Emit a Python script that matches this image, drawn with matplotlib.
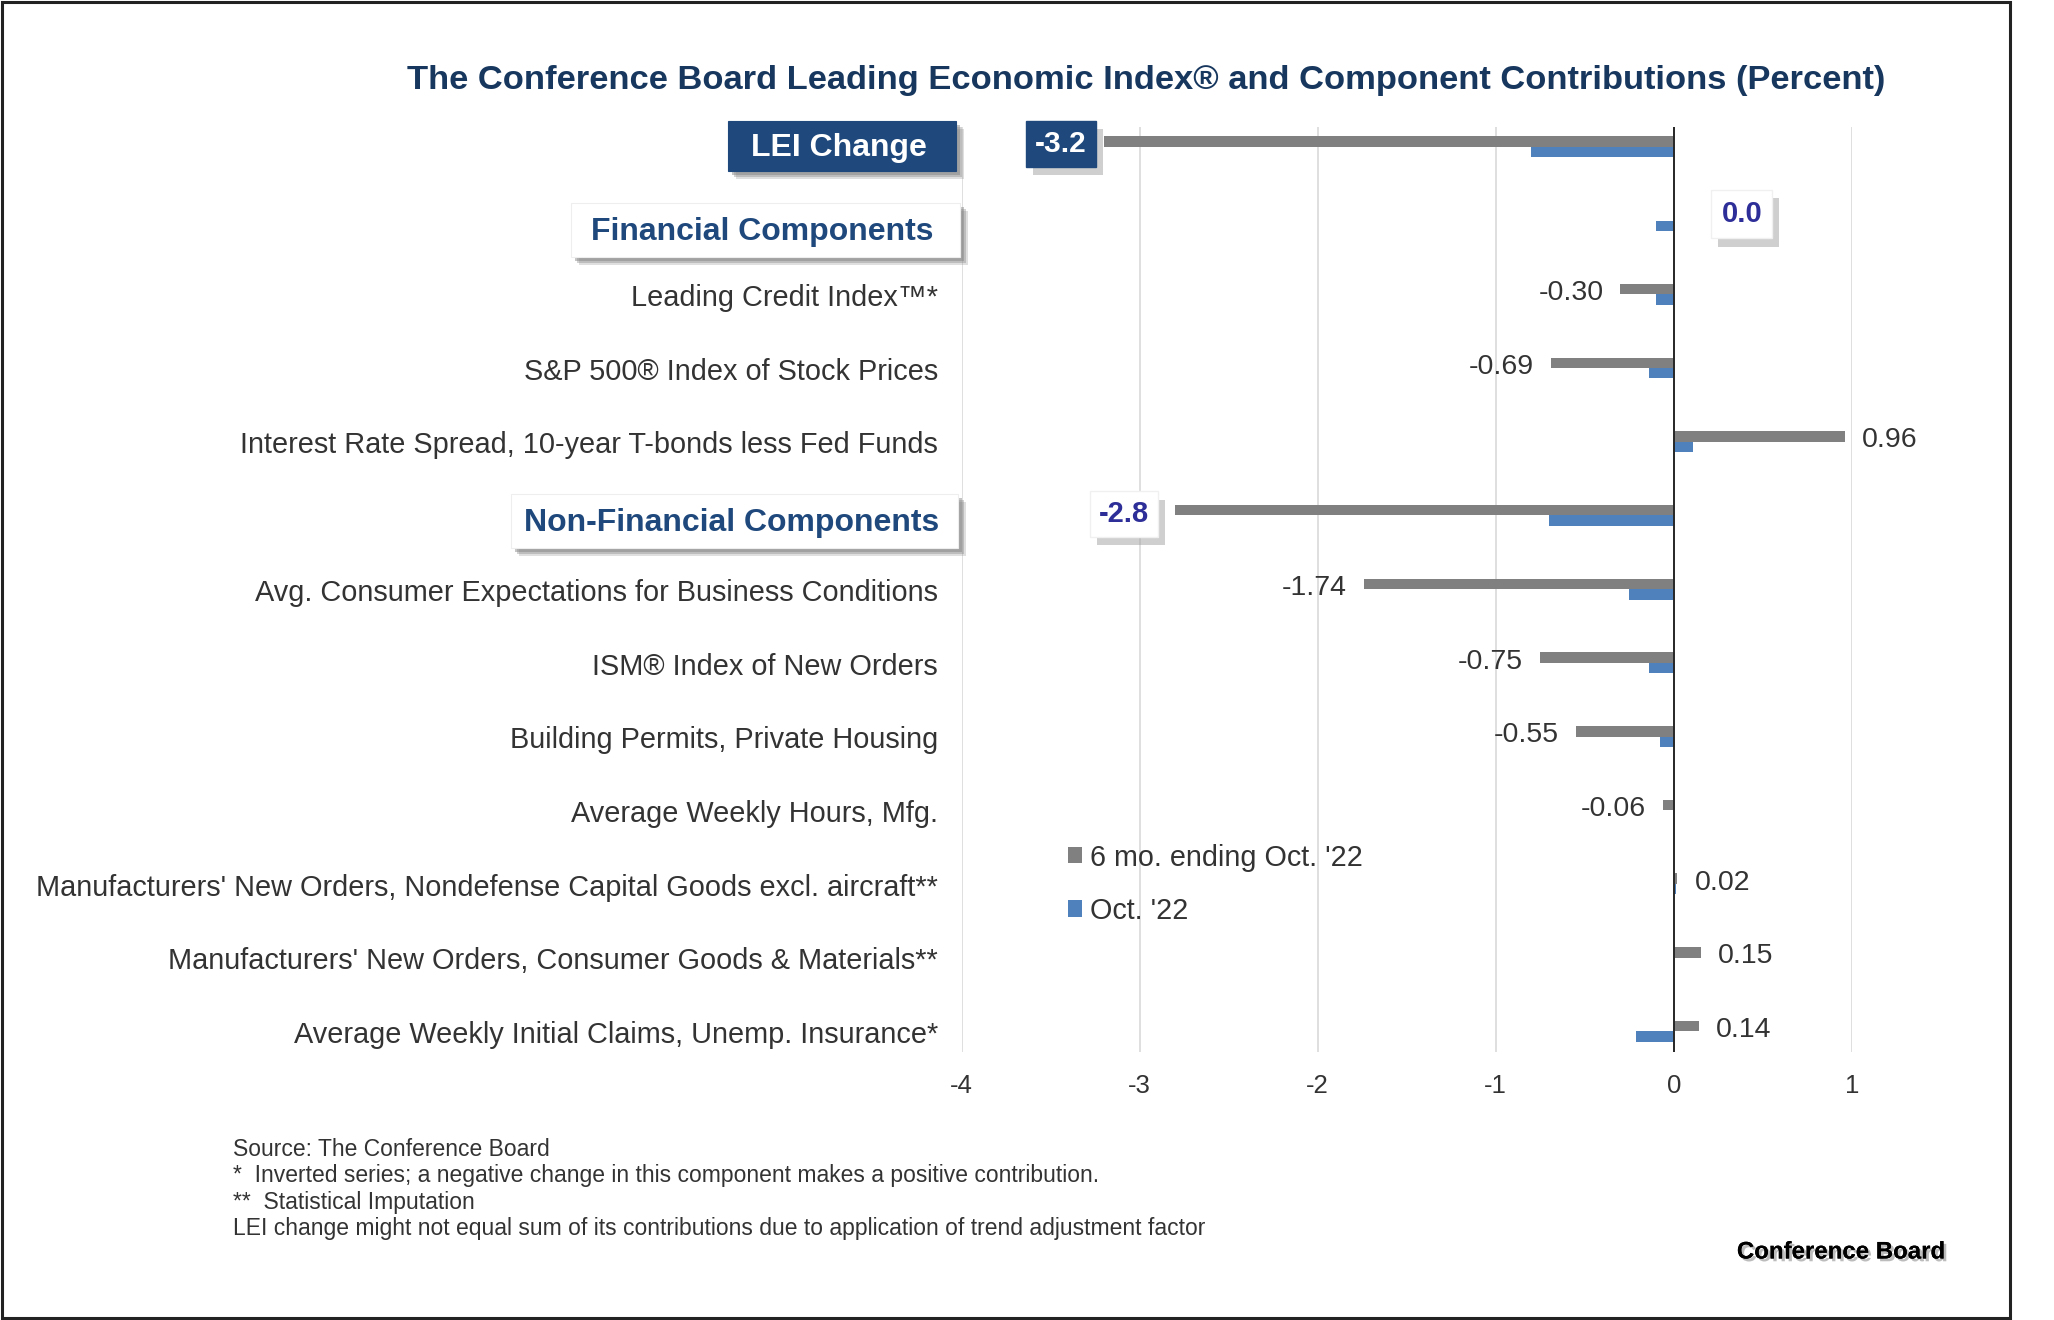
import matplotlib
matplotlib.use("Agg")
import matplotlib.pyplot as plt
import matplotlib.patches as mpatches
import matplotlib.patheffects as pe
import numpy as np

categories = [
    "LEI Change",
    "Financial Components",
    "Leading Credit Index\u2122*",
    "S&P 500\u00ae Index of Stock Prices",
    "Interest Rate Spread, 10-year T-bonds less Fed Funds",
    "Non-Financial Components",
    "Avg. Consumer Expectations for Business Conditions",
    "ISM\u00ae Index of New Orders",
    "Building Permits, Private Housing",
    "Average Weekly Hours, Mfg.",
    "Manufacturers' New Orders, Nondefense Capital Goods excl. aircraft**",
    "Manufacturers' New Orders, Consumer Goods & Materials**",
    "Average Weekly Initial Claims, Unemp. Insurance*",
]
six_month = [-3.2, 0.0, -0.30, -0.69, 0.96, -2.8, -1.74, -0.75, -0.55, -0.06, 0.02, 0.15, 0.14]
october = [-0.80, -0.10, -0.10, -0.14, 0.11, -0.70, -0.25, -0.14, -0.08, 0.0, 0.01, 0.0, -0.21]
series_names = ["6 mo. ending Oct. '22", "Oct. '22"]
x_ticks = [-4, -3, -2, -1, 0, 1]
section_rows = [0, 1, 5]
footnotes = [
    "Source: The Conference Board",
    "*  Inverted series; a negative change in this component makes a positive contribution.",
    "**  Statistical Imputation",
    "LEI change might not equal sum of its contributions due to application of trend adjustment factor",
]

NARROW = ["Liberation Sans Narrow", "Liberation Sans", "DejaVu Sans"]
SANS = ["Liberation Sans", "DejaVu Sans"]
GRAY = "#808080"
BLUE = "#4F81BD"
NAVY = "#1F497D"
TITLE_NAVY = "#17375E"
LABEL_BLUE = "#2E2E99"
TXT = "#333333"

W, H = 2054, 1320
fig = plt.figure(figsize=(W / 100, H / 100), dpi=100)
fig.patch.set_facecolor("white")

def fx(px):
    return px / W

def fy(py):
    return 1 - py / H

ax = fig.add_axes([fx(961.5), fy(1052), fx(1852) - fx(961.5), fy(127) - fy(1052)])
ax.set_xlim(-4, 1)
ax.set_ylim(12.28, -0.27)

y = np.arange(len(categories))
off = 0.071
bh = 0.142
ax.barh(y - off, six_month, height=bh, color=GRAY, label=series_names[0], zorder=3)
ax.barh(y + off, october, height=bh, color=BLUE, label=series_names[1], zorder=3)

for xt in x_ticks:
    ax.axvline(xt, color="#D9D9D9", lw=1.2, zorder=1)
ax.axvline(0, color="#262626", lw=1.4, zorder=4)

for s in ax.spines.values():
    s.set_visible(False)
ax.set_xticks(x_ticks)
ax.set_xticklabels([str(t) for t in x_ticks], fontfamily=NARROW, fontsize=18.5, color=TXT)
ax.tick_params(axis="x", length=0, pad=16)
ax.set_yticks([])

# category labels
for i, c in enumerate(categories):
    if i in section_rows:
        continue
    ax.text(-0.0264, i + 0.05, c, transform=ax.get_yaxis_transform(), ha="right", va="center",
            fontfamily=NARROW, fontsize=20.8, color=TXT)

# section header boxes (pixel boxes: x0, x1, y0, y1)
def header(box, text, fill, tcolor):
    x0, x1, y0, y1 = box
    for d, a in [(8, 0.25), (6, 0.35), (4, 0.45)]:
        sh = mpatches.Rectangle((fx(x0 + d), fy(y1 + d)), fx(x1) - fx(x0), fy(y0) - fy(y1),
                                transform=fig.transFigure, facecolor="#808080", alpha=a,
                                edgecolor="none", zorder=1)
        fig.patches.append(sh)
    r = mpatches.Rectangle((fx(x0), fy(y1)), fx(x1) - fx(x0), fy(y0) - fy(y1),
                           transform=fig.transFigure, facecolor=fill,
                           edgecolor="#EEEEEE" if fill == "white" else fill, lw=0.8, zorder=2)
    fig.patches.append(r)
    fig.text(fx((x0 + x1) / 2 - 3), fy((y0 + y1) / 2 + 2), text, ha="center", va="center",
             fontfamily=NARROW, fontweight="bold", fontsize=23, color=tcolor, zorder=3)

header((728, 956, 121, 171), categories[0], NAVY, "white")
header((571, 960, 203, 257), categories[1], "white", NAVY)
header((511, 958, 494, 548), categories[5], "white", NAVY)

# value labels
shadow = [pe.withSimplePatchShadow(offset=(5, -6), shadow_rgbFace="#A0A0A0", alpha=0.5)]
for i, v in enumerate(six_month):
    yy = i - off
    if i == 0:
        t = ax.annotate(f"{v:.1f}", (v, yy), xytext=(-17, -2), textcoords="offset pixels",
                        ha="right", va="center", fontfamily=NARROW, fontweight="bold",
                        fontsize=21.5, color="white",
                        bbox=dict(boxstyle="square,pad=0.3", fc=NAVY, ec=NAVY), zorder=6)
        t.get_bbox_patch().set_path_effects(shadow)
    elif i == 1:
        t = ax.annotate(f"{v:.1f}", (0, i - 0.09), xytext=(68, 0), textcoords="offset pixels",
                        ha="center", va="center", fontfamily=NARROW, fontweight="bold",
                        fontsize=21, color=LABEL_BLUE,
                        bbox=dict(boxstyle="square,pad=0.35", fc="white", ec="#F0F0F0"), zorder=6)
        t.get_bbox_patch().set_path_effects(shadow)
    elif i == 5:
        t = ax.annotate(f"{v:.1f}", (v, yy), xytext=(-26, -4), textcoords="offset pixels",
                        ha="right", va="center", fontfamily=NARROW, fontweight="bold",
                        fontsize=21, color=LABEL_BLUE,
                        bbox=dict(boxstyle="square,pad=0.3", fc="white", ec="#F0F0F0"), zorder=6)
        t.get_bbox_patch().set_path_effects(shadow)
    else:
        dx = 17 if v >= 0 else -17
        ax.annotate(f"{v:.2f}", (v, yy), xytext=(dx, -4), textcoords="offset pixels",
                    ha="left" if v >= 0 else "right", va="center", fontfamily=NARROW,
                    fontsize=20.5, color=TXT, zorder=6)

# legend
leg = ax.legend(loc="upper left", bbox_to_anchor=(fx(1056), fy(832)), bbox_transform=fig.transFigure,
                frameon=False, handlelength=0.5, handleheight=0.5, handletextpad=0.3,
                labelspacing=0.88, prop=dict(family=NARROW, size=20.7), borderaxespad=0)
for t in leg.get_texts():
    t.set_color(TXT)

# title
fig.text(fx(1146), fy(80), "The Conference Board Leading Economic Index\u00ae and Component Contributions (Percent)",
         ha="center", va="center", fontfamily=NARROW, fontweight="bold", fontsize=24.8, color=TITLE_NAVY)

# footnotes
for k, line in enumerate(footnotes):
    fig.text(fx(233), fy(1149 + 26.5 * k), line, ha="left", va="center", fontfamily=NARROW,
             fontsize=16.5, color=TXT)

fig.text(fx(1945), fy(1252), "Conference Board", ha="right", va="center", fontfamily=SANS,
         fontweight="bold", fontsize=17.3, color="black",
         path_effects=[pe.withSimplePatchShadow(offset=(2, -2), shadow_rgbFace="#909090", alpha=0.6), pe.Normal()])

# border
fig.patches.append(mpatches.Rectangle((fx(2), fy(1318)), fx(2010) - fx(2), fy(2) - fy(1318),
                                      transform=fig.transFigure, fill=False, edgecolor="#222222", lw=2.2))

fig.savefig("out.png", dpi=100, facecolor="white")
